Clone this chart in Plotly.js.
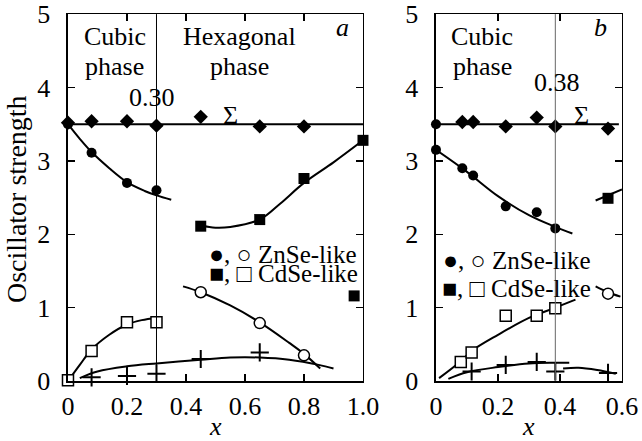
<!DOCTYPE html>
<html><head><meta charset="utf-8">
<script src="https://cdn.plot.ly/plotly-3.0.1.min.js"></script>
<style>html,body{margin:0;padding:0;background:#fff}#chart{width:642px;height:441px}</style>
</head><body><div id="chart"></div><script>
// ---------- Panel a ----------
const aSumX = [0, 0.08, 0.2, 0.3, 0.45, 0.65, 0.8];
const aSumY = [3.52, 3.54, 3.54, 3.48, 3.6, 3.47, 3.47];
const aSumLineX = [0, 1.0];
const aSumLineY = [3.5, 3.5];
const aZnCubX = [0, 0.08, 0.2, 0.3];
const aZnCubY = [3.5, 3.11, 2.7, 2.6];
const aZnCubFitX = [0, 0.04, 0.08, 0.14, 0.2, 0.26, 0.3, 0.35];
const aZnCubFitY = [3.5, 3.3, 3.12, 2.9, 2.71, 2.59, 2.53, 2.47];
const aCdHexX = [0.45, 0.65, 0.8, 0.97, 1.0];
const aCdHexY = [2.11, 2.2, 2.76, 1.16, 3.28];
const aCdHexFitX = [0.45, 0.5, 0.55, 0.65, 0.72, 0.8, 0.9, 1.0];
const aCdHexFitY = [2.12, 2.09, 2.1, 2.2, 2.42, 2.7, 2.98, 3.28];
const aZnHexX = [0.45, 0.65, 0.8];
const aZnHexY = [1.21, 0.79, 0.35];
const aZnHexFitX = [0.39, 0.45, 0.55, 0.65, 0.75, 0.8, 0.855];
const aZnHexFitY = [1.29, 1.21, 1.03, 0.8, 0.52, 0.37, 0.17];
const aCdCubX = [0, 0.08, 0.2, 0.3];
const aCdCubY = [0.01, 0.41, 0.8, 0.8];
const aCdCubFitX = [0, 0.04, 0.08, 0.14, 0.2, 0.25, 0.3];
const aCdCubFitY = [0, 0.22, 0.43, 0.63, 0.77, 0.83, 0.86];
const aCrossX = [0.08, 0.2, 0.3, 0.45, 0.65];
const aCrossY = [0.05, 0.07, 0.1, 0.3, 0.39];
const aCrossFitX = [0.04, 0.1, 0.2, 0.3, 0.45, 0.55, 0.65, 0.75, 0.85, 0.9];
const aCrossFitY = [0.04, 0.13, 0.2, 0.24, 0.29, 0.32, 0.32, 0.29, 0.22, 0.17];
const aBoundary = 0.30;

// ---------- Panel b ----------
const bSumX = [0, 0.085, 0.12, 0.225, 0.325, 0.385, 0.555];
const bSumY = [3.5, 3.53, 3.53, 3.47, 3.59, 3.47, 3.44];
const bSumLineX = [0, 0.59];
const bSumLineY = [3.5, 3.5];
const bZnCubX = [0, 0.085, 0.12, 0.225, 0.325, 0.385];
const bZnCubY = [3.15, 2.9, 2.8, 2.38, 2.3, 2.08];
const bZnCubFitX = [0, 0.1, 0.2, 0.3, 0.385, 0.44];
const bZnCubFitY = [3.15, 2.85, 2.52, 2.26, 2.1, 2.01];
const bCdHexX = [0.555];
const bCdHexY = [2.49];
const bCdHexFitX = [0.515, 0.6];
const bCdHexFitY = [2.46, 2.61];
const bZnHexX = [0.555];
const bZnHexY = [1.19];
const bZnHexFitX = [0.515, 0.555, 0.595];
const bZnHexFitY = [1.29, 1.21, 1.15];
const bCdCubX = [0.08, 0.115, 0.225, 0.325, 0.385];
const bCdCubY = [0.26, 0.39, 0.89, 0.89, 0.99];
const bCdCubFitX = [0.01, 0.08, 0.115, 0.2, 0.3, 0.385, 0.45];
const bCdCubFitY = [0.04, 0.27, 0.41, 0.63, 0.86, 1.0, 1.11];
const bCrossX = [0.115, 0.225, 0.325, 0.385, 0.555];
const bCrossY = [0.13, 0.22, 0.26, 0.13, 0.11];
const bCrossFit1X = [0.04, 0.1, 0.2, 0.3, 0.38, 0.43];
const bCrossFit1Y = [0.03, 0.12, 0.19, 0.24, 0.25, 0.25];
const bCrossFit2X = [0.41, 0.46, 0.52, 0.58];
const bCrossFit2Y = [0.17, 0.18, 0.15, 0.1];
const bBoundary = 0.385;

const aXTicks = [0, 0.2, 0.4, 0.6, 0.8, 1.0];
const aXTickText = ['0', '0.2', '0.4', '0.6', '0.8', '1.0'];
const bXTicks = [0, 0.2, 0.4, 0.6];
const bXTickText = ['0', '0.2', '0.4', '0.6'];
const yTicks = [0, 1, 2, 3, 4, 5];
const yTickText = ['0', '1', '2', '3', '4', '5'];

const FONT = 'Liberation Serif';
const K = '#000';

function fit(x, y, xa, ya, extra) {
  return Object.assign({x, y, xaxis: xa, yaxis: ya, mode: 'lines', type: 'scatter',
    line: {color: K, width: 2, shape: 'spline', smoothing: 1}, hoverinfo: 'skip', cliponaxis: false}, extra || {});
}
function pts(x, y, xa, ya, symbol, size) {
  return {x, y, xaxis: xa, yaxis: ya, mode: 'markers', type: 'scatter', cliponaxis: false,
    marker: {symbol, size, color: K, opacity: 1, line: {color: K, width: 0}}};
}
function ptsOpen(x, y, xa, ya, symbol, size) {
  return {x, y, xaxis: xa, yaxis: ya, mode: 'markers', type: 'scatter', cliponaxis: false,
    marker: {symbol, size, color: '#fff', opacity: 1, line: {color: K, width: 1.5}}};
}
function crosses(x, y, xa, ya) {
  return {x, y, xaxis: xa, yaxis: ya, mode: 'markers', type: 'scatter', cliponaxis: false,
    marker: {symbol: 'cross-thin-open', size: 13, color: K, opacity: 1, line: {color: K, width: 2}}};
}

const traces = [
  // panel a
  fit(aSumLineX, aSumLineY, 'x', 'y', {line: {color: K, width: 2}}),
  fit(aZnCubFitX, aZnCubFitY, 'x', 'y'),
  fit(aCdHexFitX, aCdHexFitY, 'x', 'y'),
  fit(aZnHexFitX, aZnHexFitY, 'x', 'y'),
  fit(aCdCubFitX, aCdCubFitY, 'x', 'y'),
  fit(aCrossFitX, aCrossFitY, 'x', 'y'),
  pts(aZnCubX, aZnCubY, 'x', 'y', 'circle', 10),
  pts(aSumX, aSumY, 'x', 'y', 'diamond', 11),
  pts(aCdHexX, aCdHexY, 'x', 'y', 'square', 11),
  ptsOpen(aZnHexX, aZnHexY, 'x', 'y', 'circle', 11),
  ptsOpen(aCdCubX, aCdCubY, 'x', 'y', 'square', 11),
  crosses(aCrossX, aCrossY, 'x', 'y'),
  // panel b
  fit(bSumLineX, bSumLineY, 'x2', 'y2', {line: {color: K, width: 2}}),
  fit(bZnCubFitX, bZnCubFitY, 'x2', 'y2'),
  fit(bCdHexFitX, bCdHexFitY, 'x2', 'y2'),
  fit(bZnHexFitX, bZnHexFitY, 'x2', 'y2'),
  fit(bCdCubFitX, bCdCubFitY, 'x2', 'y2'),
  fit(bCrossFit1X, bCrossFit1Y, 'x2', 'y2'),
  fit(bCrossFit2X, bCrossFit2Y, 'x2', 'y2'),
  pts(bZnCubX, bZnCubY, 'x2', 'y2', 'circle', 10),
  {x: bSumX, y: bSumY, xaxis: 'x2', yaxis: 'y2', mode: 'markers', type: 'scatter', cliponaxis: false,
    marker: {symbol: bSumX.map((v, i) => i === 0 ? 'circle' : 'diamond'),
      size: bSumX.map((v, i) => i === 0 ? 10 : 11), color: K, opacity: 1, line: {width: 0}}},
  pts(bCdHexX, bCdHexY, 'x2', 'y2', 'square', 11),
  ptsOpen(bZnHexX, bZnHexY, 'x2', 'y2', 'circle', 11),
  ptsOpen(bCdCubX, bCdCubY, 'x2', 'y2', 'square', 11),
  crosses(bCrossX, bCrossY, 'x2', 'y2')
];

function xax(domain, range, tv, tt, anchor) {
  return {domain, range, tickvals: tv, ticktext: tt, anchor, ticks: 'inside', ticklen: 7, tickwidth: 1.5,
    tickcolor: K, showline: true, linecolor: K, linewidth: 1.5, mirror: 'ticks', showgrid: false,
    zeroline: false, tickfont: {family: FONT, size: 26, color: K}, ticklabelstandoff: 1, fixedrange: true};
}
function yax(range, anchor) {
  return {domain: [0.136, 0.968], range, tickvals: yTicks, ticktext: yTickText, anchor,
    ticks: 'inside', ticklen: 7, tickwidth: 1.5, tickcolor: K, showline: true, linecolor: K,
    linewidth: 1.5, mirror: 'ticks', showgrid: false, zeroline: false,
    tickfont: {family: FONT, size: 26, color: K}, ticklabelstandoff: 11, fixedrange: true};
}

const tf = {family: FONT, size: 26, color: K};
function ann(text, x, y, xref, yref, extra) {
  return Object.assign({text, x, y, xref, yref, showarrow: false, font: tf, xanchor: 'center', yanchor: 'middle'}, extra || {});
}
const lf = {family: FONT, size: 25, color: K};

const layout = {
  width: 642, height: 441, margin: {l: 0, r: 0, t: 0, b: 0},
  paper_bgcolor: '#fff', plot_bgcolor: 'rgba(0,0,0,0)', showlegend: false,
  xaxis: xax([0.1059, 0.5654], [0, 1.0], aXTicks, aXTickText, 'y'),
  yaxis: yax([0, 5], 'x'),
  xaxis2: xax([0.6791, 0.9688], [0, 0.6], bXTicks, bXTickText, 'y2'),
  yaxis2: yax([0, 5], 'x2'),
  shapes: [
    {type: 'line', xref: 'x', yref: 'y', x0: aBoundary, x1: aBoundary, y0: 0, y1: 5, line: {color: K, width: 1}},
    {type: 'line', xref: 'x2', yref: 'y2', x0: bBoundary, x1: bBoundary, y0: 0, y1: 5, line: {color: '#666', width: 1}}
  ],
  annotations: [
    ann('Cubic', 0.158, 4.69, 'x', 'y'),
    ann('phase', 0.158, 4.28, 'x', 'y'),
    ann('Hexagonal', 0.58, 4.69, 'x', 'y'),
    ann('phase', 0.58, 4.28, 'x', 'y'),
    ann('<i>a</i>', 0.93, 4.82, 'x', 'y'),
    ann('0.30', 0.285, 3.87, 'x', 'y'),
    ann('Σ', 0.55, 3.62, 'x', 'y'),
    ann('●, ○ ZnSe-like', 0.73, 1.73, 'x', 'y', {font: lf}),
    ann('■, □ CdSe-like', 0.73, 1.46, 'x', 'y', {font: lf}),
    ann('Cubic', 0.15, 4.69, 'x2', 'y2'),
    ann('phase', 0.15, 4.28, 'x2', 'y2'),
    ann('<i>b</i>', 0.53, 4.82, 'x2', 'y2'),
    ann('0.38', 0.39, 4.07, 'x2', 'y2'),
    ann('Σ', 0.47, 3.62, 'x2', 'y2'),
    ann('●, ○ ZnSe-like', 0.26, 1.64, 'x2', 'y2', {font: lf}),
    ann('■, □ CdSe-like', 0.26, 1.26, 'x2', 'y2', {font: lf}),
    ann('Oscillator strength', 16 / 642, 1 - 199 / 441, 'paper', 'paper', {textangle: -90, font: {family: FONT, size: 28, color: K}}),
    ann('<i>x</i>', 0.5, 1 - 426 / 441, 'x', 'paper'),
    ann('<i>x</i>', 0.3, 1 - 426 / 441, 'x2', 'paper')
  ]
};

Plotly.newPlot('chart', traces, layout, {staticPlot: true, displayModeBar: false});
</script></body></html>
